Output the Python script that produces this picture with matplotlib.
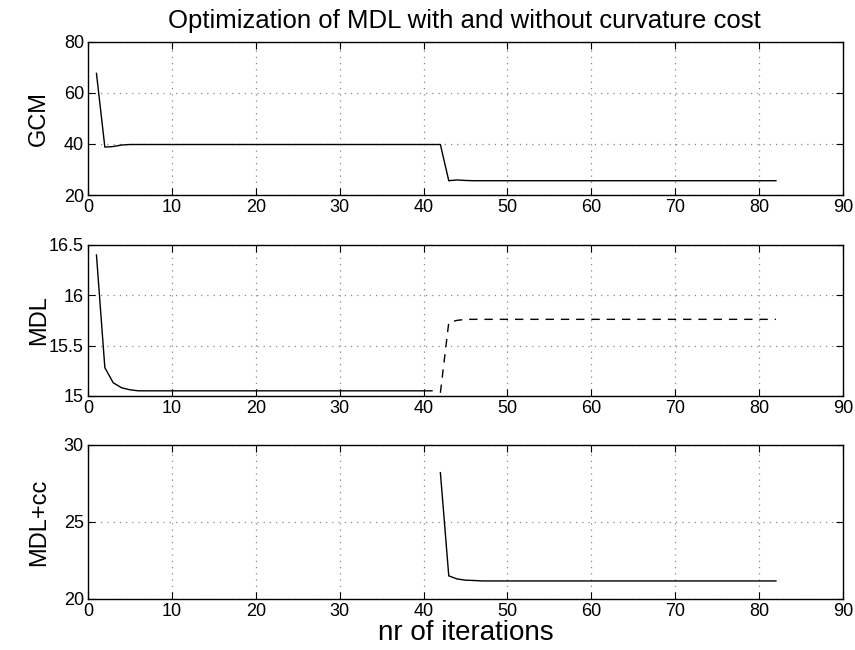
import matplotlib
matplotlib.use("Agg")
import matplotlib.pyplot as plt

plt.rcParams["font.family"] = ["Liberation Sans", "DejaVu Sans"]

# GCM, iterations 1..82
gcm_x = list(range(1, 83))
gcm_y = [67.7, 38.8, 39.0, 39.6] + [39.8] * 38 + [25.6, 25.9, 25.7] + [25.6] * 37

# MDL: solid part (iterations 1..41), dashed part (42..82)
mdl_x1 = list(range(1, 42))
mdl_y1 = [16.4, 15.28, 15.13, 15.08, 15.06] + [15.05] * 36
mdl_x2 = list(range(42, 83))
mdl_y2 = [15.03, 15.73, 15.75] + [15.76] * 38

# MDL + curvature cost (42..82)
cc_x = list(range(42, 83))
cc_y = [28.2, 21.5, 21.3, 21.22, 21.2] + [21.17] * 36

fig = plt.figure(figsize=(8.55, 6.5), dpi=100)
ax1 = fig.add_axes([0.103, 0.700, 0.883, 0.2354])
ax2 = fig.add_axes([0.103, 0.391, 0.883, 0.2323])
ax3 = fig.add_axes([0.103, 0.0785, 0.883, 0.237])

ax1.plot(gcm_x, gcm_y, color="black", lw=1.0)
ax1.set_ylim(20, 80)
ax1.set_yticks([20, 40, 60, 80])
ax1.set_ylabel("GCM", fontsize=17)

ax2.plot(mdl_x1, mdl_y1, color="black", lw=1.0)
ax2.plot(mdl_x2, mdl_y2, color="black", lw=1.0, ls=(0, (6, 5)))
ax2.set_ylim(15, 16.5)
ax2.set_yticks([15, 15.5, 16, 16.5])
ax2.set_yticklabels(["15", "15.5", "16", "16.5"])
ax2.set_ylabel("MDL", fontsize=17)

ax3.plot(cc_x, cc_y, color="black", lw=1.0)
ax3.set_ylim(20, 30)
ax3.set_yticks([20, 25, 30])
ax3.set_ylabel("MDL+cc", fontsize=17)
ax3.set_xlabel("nr of iterations", fontsize=20)
ax3.xaxis.set_label_coords(0.5, -0.135)

for ax in (ax1, ax2, ax3):
    ax.set_xlim(0, 90)
    ax.set_xticks(range(0, 91, 10))
    ax.grid(True, color="#888888", ls=(0, (1, 4)), lw=0.9)
    ax.tick_params(direction="in", top=True, right=True, labelsize=13,
                   length=5, width=0.8, pad=3)
    for s in ax.spines.values():
        s.set_linewidth(1.0)
    ax.yaxis.set_label_coords(-0.05, 0.5)

fig.text(0.543, 0.967, "Optimization of MDL with and without curvature cost",
         ha="center", va="center", fontsize=18.5)

fig.savefig("out.png", dpi=100)
